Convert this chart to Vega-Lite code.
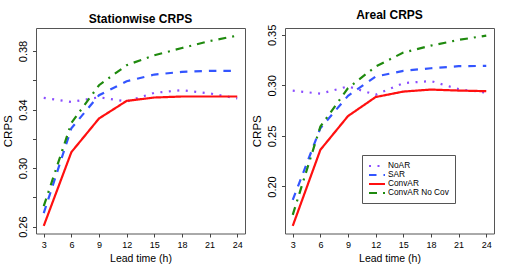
{
  "$schema": "https://vega.github.io/schema/vega-lite/v6.json",
  "padding": {"left": 2, "top": 8, "right": 0, "bottom": 0},
  "background": "white",
  "spacing": 40,
  "bounds": "flush",
  "config": {
    "font": "Liberation Sans",
    "view": {"stroke": "#555", "strokeWidth": 1},
    "axis": {"grid": false, "domain": false, "tickColor": "#444", "tickSize": 3.5, "labelColor": "black", "titleColor": "black", "labelFont": "Liberation Sans", "titleFont": "Liberation Sans", "titleFontWeight": "normal"},
    "title": {"font": "Liberation Sans", "fontSize": 12, "fontWeight": "bold", "color": "black", "offset": 2}
  },
  "datasets": {
    "station": [
      {"model": "NoAR", "lead": 3, "crps": 0.348}, {"model": "NoAR", "lead": 6, "crps": 0.3452}, {"model": "NoAR", "lead": 9, "crps": 0.3484}, {"model": "NoAR", "lead": 12, "crps": 0.3455}, {"model": "NoAR", "lead": 15, "crps": 0.3514}, {"model": "NoAR", "lead": 18, "crps": 0.3532}, {"model": "NoAR", "lead": 21, "crps": 0.351}, {"model": "NoAR", "lead": 24, "crps": 0.3476},
      {"model": "SAR", "lead": 3, "crps": 0.2692}, {"model": "SAR", "lead": 6, "crps": 0.3272}, {"model": "SAR", "lead": 9, "crps": 0.3498}, {"model": "SAR", "lead": 12, "crps": 0.3593}, {"model": "SAR", "lead": 15, "crps": 0.3639}, {"model": "SAR", "lead": 18, "crps": 0.3657}, {"model": "SAR", "lead": 21, "crps": 0.3664}, {"model": "SAR", "lead": 24, "crps": 0.3664},
      {"model": "ConvAR", "lead": 3, "crps": 0.2605}, {"model": "ConvAR", "lead": 6, "crps": 0.3109}, {"model": "ConvAR", "lead": 9, "crps": 0.3339}, {"model": "ConvAR", "lead": 12, "crps": 0.3459}, {"model": "ConvAR", "lead": 15, "crps": 0.3482}, {"model": "ConvAR", "lead": 18, "crps": 0.3489}, {"model": "ConvAR", "lead": 21, "crps": 0.3489}, {"model": "ConvAR", "lead": 24, "crps": 0.3489},
      {"model": "ConvAR No Cov", "lead": 3, "crps": 0.274}, {"model": "ConvAR No Cov", "lead": 6, "crps": 0.3308}, {"model": "ConvAR No Cov", "lead": 9, "crps": 0.3566}, {"model": "ConvAR No Cov", "lead": 12, "crps": 0.3703}, {"model": "ConvAR No Cov", "lead": 15, "crps": 0.3771}, {"model": "ConvAR No Cov", "lead": 18, "crps": 0.382}, {"model": "ConvAR No Cov", "lead": 21, "crps": 0.3868}, {"model": "ConvAR No Cov", "lead": 24, "crps": 0.3905}
    ],
    "areal": [
      {"model": "NoAR", "lead": 3, "crps": 0.2948}, {"model": "NoAR", "lead": 6, "crps": 0.2918}, {"model": "NoAR", "lead": 9, "crps": 0.299}, {"model": "NoAR", "lead": 12, "crps": 0.2908}, {"model": "NoAR", "lead": 15, "crps": 0.3023}, {"model": "NoAR", "lead": 18, "crps": 0.3043}, {"model": "NoAR", "lead": 21, "crps": 0.2963}, {"model": "NoAR", "lead": 24, "crps": 0.2929},
      {"model": "SAR", "lead": 3, "crps": 0.1868}, {"model": "SAR", "lead": 6, "crps": 0.2577}, {"model": "SAR", "lead": 9, "crps": 0.2897}, {"model": "SAR", "lead": 12, "crps": 0.3088}, {"model": "SAR", "lead": 15, "crps": 0.3144}, {"model": "SAR", "lead": 18, "crps": 0.317}, {"model": "SAR", "lead": 21, "crps": 0.319}, {"model": "SAR", "lead": 24, "crps": 0.3193},
      {"model": "ConvAR", "lead": 3, "crps": 0.161}, {"model": "ConvAR", "lead": 6, "crps": 0.2363}, {"model": "ConvAR", "lead": 9, "crps": 0.2697}, {"model": "ConvAR", "lead": 12, "crps": 0.2885}, {"model": "ConvAR", "lead": 15, "crps": 0.2939}, {"model": "ConvAR", "lead": 18, "crps": 0.2959}, {"model": "ConvAR", "lead": 21, "crps": 0.2949}, {"model": "ConvAR", "lead": 24, "crps": 0.2943},
      {"model": "ConvAR No Cov", "lead": 3, "crps": 0.172}, {"model": "ConvAR No Cov", "lead": 6, "crps": 0.2593}, {"model": "ConvAR No Cov", "lead": 9, "crps": 0.2973}, {"model": "ConvAR No Cov", "lead": 12, "crps": 0.3187}, {"model": "ConvAR No Cov", "lead": 15, "crps": 0.3325}, {"model": "ConvAR No Cov", "lead": 18, "crps": 0.3394}, {"model": "ConvAR No Cov", "lead": 21, "crps": 0.345}, {"model": "ConvAR No Cov", "lead": 24, "crps": 0.3493}
    ]
  },
  "hconcat": [
    {
      "title": "Stationwise CRPS",
      "width": 209,
      "height": 205.5,
      "data": {"name": "station"},
      "mark": {"type": "line", "strokeWidth": 2.2, "clip": true},
      "encoding": {
        "x": {"field": "lead", "type": "quantitative", "title": "Lead time (h)",
          "scale": {"domain": [2.16, 24.84], "nice": false, "zero": false},
          "axis": {"values": [3, 6, 9, 12, 15, 18, 21, 24], "labelFontSize": 9, "titleFontSize": 10.5, "labelPadding": 3, "titlePadding": 4}},
        "y": {"field": "crps", "type": "quantitative", "title": "CRPS",
          "scale": {"domain": [0.2553, 0.3957], "nice": false, "zero": false},
          "axis": {"values": [0.26, 0.28, 0.3, 0.32, 0.34, 0.36, 0.38], "format": ".2f",
            "labelExpr": "indexof(['0.26','0.30','0.34','0.38'], datum.label) >= 0 ? datum.label : ''",
            "labelAngle": -90, "labelAlign": "center", "labelBaseline": "bottom", "labelFontSize": 11, "labelPadding": 4, "titleFontSize": 11.5, "titlePadding": 4}},
        "color": {"field": "model", "type": "nominal",
          "scale": {"domain": ["NoAR", "SAR", "ConvAR", "ConvAR No Cov"], "range": ["#8A4DFF", "#3355FF", "#FF1010", "#1F8A0E"]},
          "legend": null},
        "strokeDash": {"field": "model", "type": "nominal",
          "scale": {"domain": ["NoAR", "SAR", "ConvAR", "ConvAR No Cov"], "range": [[2, 6.5], [7.5, 7], [1, 0], [8, 6, 2, 6]]},
          "legend": null}
      }
    },
    {
      "title": "Areal CRPS",
      "width": 209,
      "height": 205.5,
      "data": {"name": "areal"},
      "mark": {"type": "line", "strokeWidth": 2.2, "clip": true},
      "encoding": {
        "x": {"field": "lead", "type": "quantitative", "title": "Lead time (h)",
          "scale": {"domain": [2.16, 24.84], "nice": false, "zero": false},
          "axis": {"values": [3, 6, 9, 12, 15, 18, 21, 24], "labelFontSize": 9, "titleFontSize": 10.5, "labelPadding": 3, "titlePadding": 4}},
        "y": {"field": "crps", "type": "quantitative", "title": "CRPS",
          "scale": {"domain": [0.1535, 0.3568], "nice": false, "zero": false},
          "axis": {"values": [0.2, 0.25, 0.3, 0.35], "format": ".2f",
            "labelAngle": -90, "labelAlign": "center", "labelBaseline": "bottom", "labelFontSize": 11, "labelPadding": 4, "titleFontSize": 11.5, "titlePadding": 4}},
        "color": {"field": "model", "type": "nominal",
          "scale": {"domain": ["NoAR", "SAR", "ConvAR", "ConvAR No Cov"], "range": ["#8A4DFF", "#3355FF", "#FF1010", "#1F8A0E"]},
          "legend": {"title": null, "orient": "none", "legendX": 77, "legendY": 127, "strokeColor": "#555", "padding": 6, "fillColor": "white",
            "symbolType": "M-2,0H2", "symbolSize": 64, "symbolStrokeWidth": 2, "symbolOffset": 4, "labelFontSize": 8.3, "labelColor": "black", "rowPadding": -2, "labelOffset": 6}},
        "strokeDash": {"field": "model", "type": "nominal",
          "scale": {"domain": ["NoAR", "SAR", "ConvAR", "ConvAR No Cov"], "range": [[2, 6.5], [7.5, 7], [1, 0], [8, 6, 2, 6]]},
          "legend": {"title": null, "orient": "none", "legendX": 77, "legendY": 127, "strokeColor": "#555", "padding": 6, "fillColor": "white",
            "symbolType": "M-2,0H2", "symbolSize": 64, "symbolStrokeWidth": 2, "symbolOffset": 4, "labelFontSize": 8.3, "labelColor": "black", "rowPadding": -2, "labelOffset": 6}}
      }
    }
  ],
  "resolve": {"scale": {"color": "independent", "strokeDash": "independent", "y": "independent"}}
}
